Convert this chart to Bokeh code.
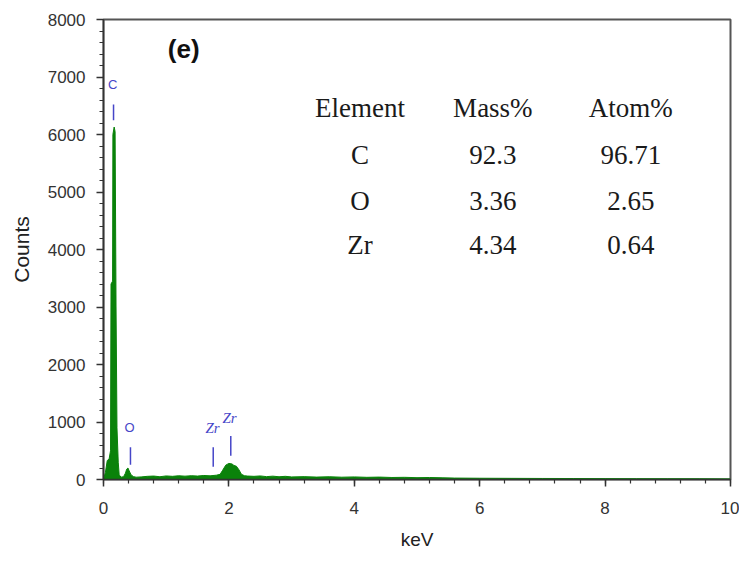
from bokeh.plotting import figure
from bokeh.embed import file_html
from bokeh.resources import INLINE
from bokeh.models import SingleIntervalTicker, ColumnDataSource
from bokeh.core.properties import value

# Spectrum (keV, counts)
energy = [0.0, 0.03, 0.06, 0.09, 0.112, 0.12, 0.145, 0.15, 0.17, 0.185, 0.2, 0.215, 0.235, 0.25,
          0.28, 0.32, 0.35, 0.37, 0.39, 0.41, 0.44, 0.48, 0.52,
          0.6, 0.7, 0.8, 0.9, 1.0, 1.1, 1.2, 1.3, 1.4, 1.5, 1.6, 1.7, 1.8, 1.86,
          1.9, 1.95, 2.0, 2.05, 2.08, 2.12, 2.16, 2.2, 2.25,
          2.3, 2.4, 2.5, 2.6, 2.7, 2.8, 2.9, 3.0, 3.2, 3.4, 3.6, 3.8, 4.0, 4.2, 4.4,
          4.6, 4.8, 5.0, 5.2, 5.4, 5.6, 6.0, 6.5, 7.0, 7.5, 8.0, 8.5, 9.0, 9.5, 10.0]
counts = [0, 120, 330, 360, 500, 3400, 3450, 6000, 6130, 6050, 3000, 900, 300, 80,
          40, 50, 110, 180, 200, 150, 80, 50, 40,
          45, 55, 60, 48, 62, 55, 65, 58, 66, 60, 70, 64, 75, 90,
          160, 250, 280, 270, 245, 230, 170, 90, 65,
          60, 55, 62, 50, 58, 48, 55, 45, 50, 42, 48, 40, 45, 38, 42,
          35, 38, 32, 35, 30, 25, 22, 20, 18, 17, 15, 14, 13, 12, 10]

# Element marker lines and labels
marker_x = [0.16, 0.43, 1.75, 2.03]
marker_y0 = [6250, 255, 220, 415]
marker_y1 = [6520, 560, 560, 755]
label_text = ["C", "O", "Zr", "Zr"]
label_x = [0.147, 0.415, 1.74, 2.01]
label_y = [6865, 907, 890, 1077]

# Composition table
elements = ["C", "O", "Zr"]
mass_pct = ["92.3", "3.36", "4.34"]
atom_pct = ["96.71", "2.65", "0.64"]
headers = ["Element", "Mass%", "Atom%"]
col_x = [4.09, 6.21, 8.41]
header_y = 6459
row_y = [5651, 4851, 4085]

p = figure(width=739, height=552, x_range=(0, 10), y_range=(0, 8000),
           output_backend="svg", toolbar_location=None,
           min_border_left=103, min_border_right=9, min_border_top=19, min_border_bottom=67)
p.xgrid.visible = False
p.ygrid.visible = False
p.outline_line_color = "#555555"
p.outline_line_width = 2
p.background_fill_color = "white"
p.border_fill_color = "white"

green = "#0a820a"
p.varea(x=energy, y1=[0] * len(energy), y2=counts, fill_color=green)
p.line(energy, counts, line_color=green, line_width=1)

blue = "#4646c8"
p.segment(x0=marker_x, y0=marker_y0, x1=marker_x, y1=marker_y1, line_color=blue, line_width=1.5)
src_c = ColumnDataSource(dict(x=label_x[:2], y=label_y[:2], t=label_text[:2]))
p.text(x="x", y="y", text="t", source=src_c, text_font=value("Liberation Sans"),
       text_font_size="13px", text_color=blue, text_align="center", text_baseline="middle")
src_z = ColumnDataSource(dict(x=label_x[2:], y=label_y[2:], t=label_text[2:]))
p.text(x="x", y="y", text="t", source=src_z, text_font=value("Liberation Serif"),
       text_font_size="15px", text_font_style="italic", text_color=blue,
       text_align="center", text_baseline="middle")

serif = value("Liberation Serif")
p.text(x=col_x, y=[header_y] * 3, text=headers, text_font=serif, text_font_size="27px",
       text_color="#1a1a1a", text_align="center", text_baseline="middle")
for cx, col in zip(col_x, [elements, mass_pct, atom_pct]):
    p.text(x=[cx] * 3, y=row_y, text=col, text_font=serif, text_font_size="27px",
           text_color="#1a1a1a", text_align="center", text_baseline="middle")

p.text(x=[1.28], y=[7480], text=["(e)"], text_font=value("Liberation Sans"),
       text_font_size="26px", text_font_style="bold", text_color="#111111",
       text_align="center", text_baseline="middle")

for ax in (p.xaxis[0], p.yaxis[0]):
    ax.axis_line_color = "#333333"
    ax.axis_line_width = 1.5
    ax.major_tick_line_color = "#333333"
    ax.minor_tick_line_color = "#333333"
    ax.major_tick_line_width = 1.5
    ax.minor_tick_line_width = 1.2
    ax.major_tick_in = 0
    ax.minor_tick_in = 0
    ax.major_tick_out = 7
    ax.minor_tick_out = 4
    ax.major_label_text_font = "Liberation Sans"
    ax.major_label_text_font_size = "17px"
    ax.major_label_text_color = "#333333"
    ax.axis_label_text_font = "Liberation Sans"
    ax.axis_label_text_font_style = "normal"
    ax.axis_label_text_color = "#222222"

p.xaxis.ticker = SingleIntervalTicker(interval=2, num_minor_ticks=5)
p.yaxis.ticker = SingleIntervalTicker(interval=1000, num_minor_ticks=5)
p.xaxis.axis_label = "keV"
p.yaxis.axis_label = "Counts"
p.xaxis.axis_label_text_font_size = "19px"
p.yaxis.axis_label_text_font_size = "21px"
p.xaxis.major_label_standoff = 15
p.yaxis.major_label_standoff = 11
p.xaxis.axis_label_standoff = 12
p.yaxis.axis_label_standoff = 12

open("out.html", "w").write(file_html(p, INLINE))
